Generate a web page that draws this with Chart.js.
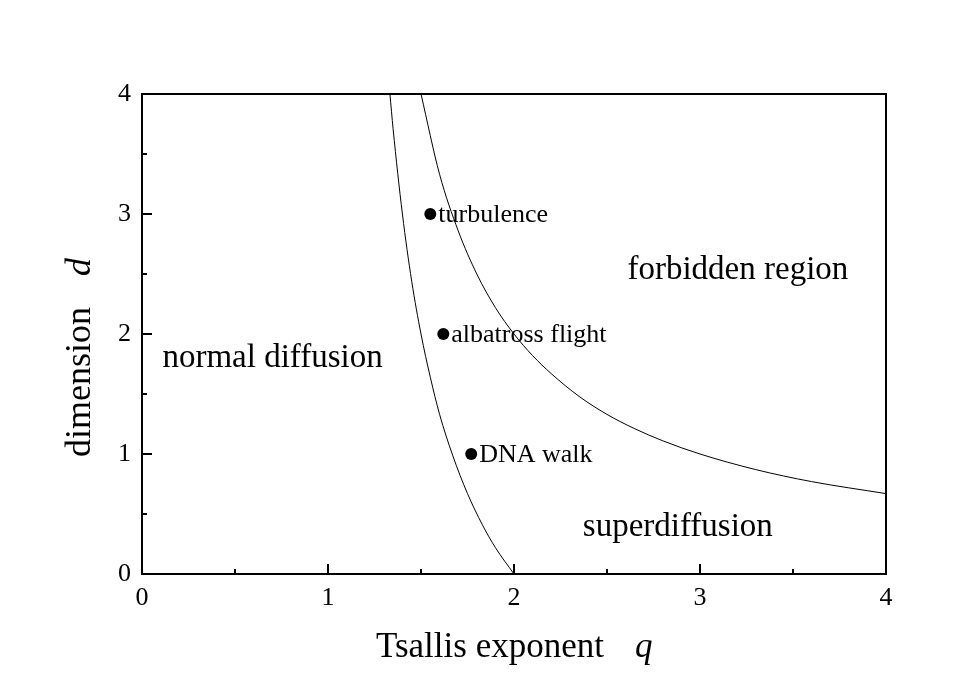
<!DOCTYPE html>
<html>
<head>
<meta charset="utf-8">
<script src="https://cdn.jsdelivr.net/npm/chart.js@4"></script>
<style>
  body { margin: 0; background: #fff; }
</style>
</head>
<body>
<canvas id="grafico" width="977" height="678"></canvas>
<script>
// curva izquierda (normal / superdifusion)
let qNormal = [1.333, 1.35, 1.4, 1.45, 1.5, 1.55, 1.6, 1.67, 1.75, 1.83, 1.9, 2.0];
let dNormal = [4.0, 3.71, 3.0, 2.44, 2.0, 1.64, 1.33, 0.99, 0.67, 0.41, 0.22, 0];

// curva derecha (region prohibida)
let qProhibida = [1.5, 1.6, 1.7, 1.8, 1.9, 2.0, 2.1, 2.2, 2.35, 2.5, 2.65, 2.8, 3.0, 3.3, 3.6, 4.0];
let dProhibida = [4.0, 3.33, 2.86, 2.5, 2.22, 2.0, 1.82, 1.67, 1.48, 1.33, 1.21, 1.11, 1.0, 0.87, 0.77, 0.67];

// sistemas medidos
let puntosNombres = ["turbulence", "albatross flight", "DNA walk"];
let puntosQ = [1.55, 1.62, 1.77];
let puntosD = [3, 2, 1];

// textos de las regiones
let regionesNombres = ["normal diffusion", "forbidden region", "superdiffusion"];
let regionesQ = [0.11, 2.61, 2.37];
let regionesD = [1.8, 2.53, 0.39];

// ticks
let ticksMayores = [0, 1, 2, 3, 4];
let ticksMenores = [0.5, 1.5, 2.5, 3.5];

let fuente = "Liberation Serif";

function toXY(xs, ys) {
  return xs.map((x, i) => ({ x: x, y: ys[i] }));
}

// marco, ticks hacia adentro, textos y titulos
const marco = {
  id: "marco",
  afterDraw(chart) {
    const ctx = chart.ctx;
    const area = chart.chartArea;
    const sx = chart.scales.x;
    const sy = chart.scales.y;
    ctx.save();
    ctx.strokeStyle = "#000";
    ctx.lineWidth = 2;
    ctx.strokeRect(area.left, area.top, area.right - area.left, area.bottom - area.top);

    ctx.beginPath();
    for (const v of ticksMayores) {
      let px = sx.getPixelForValue(v);
      ctx.moveTo(px, area.bottom);
      ctx.lineTo(px, area.bottom - 10);
      let py = sy.getPixelForValue(v);
      ctx.moveTo(area.left, py);
      ctx.lineTo(area.left + 10, py);
    }
    for (const v of ticksMenores) {
      let px = sx.getPixelForValue(v);
      ctx.moveTo(px, area.bottom);
      ctx.lineTo(px, area.bottom - 5);
      let py = sy.getPixelForValue(v);
      ctx.moveTo(area.left, py);
      ctx.lineTo(area.left + 5, py);
    }
    ctx.stroke();

    ctx.fillStyle = "#000";

    // etiquetas de los puntos
    ctx.font = "26px " + fuente;
    ctx.textAlign = "left";
    ctx.textBaseline = "alphabetic";
    const meta = chart.getDatasetMeta(2);
    meta.data.forEach((p, i) => {
      ctx.fillText(puntosNombres[i], p.x + 8, p.y + 8);
    });

    // regiones
    ctx.font = "33px " + fuente;
    ctx.textBaseline = "middle";
    regionesNombres.forEach((t, i) => {
      ctx.fillText(t, sx.getPixelForValue(regionesQ[i]), sy.getPixelForValue(regionesD[i]));
    });

    // titulo eje x
    ctx.textBaseline = "alphabetic";
    ctx.font = "35px " + fuente;
    ctx.fillText("Tsallis exponent", 376, 657);
    ctx.font = "italic 35px " + fuente;
    ctx.fillText("q", 635, 657);

    // titulo eje y
    ctx.translate(90, 457);
    ctx.rotate(-Math.PI / 2);
    ctx.font = "36px " + fuente;
    ctx.fillText("dimension", 0, 0);
    ctx.font = "italic 36px " + fuente;
    ctx.fillText("d", 181, 0);
    ctx.restore();
  }
};

let grafico = new Chart(document.querySelector("#grafico"), {
  type: "scatter",
  data: {
    datasets: [
      {
        data: toXY(qNormal, dNormal),
        showLine: true,
        borderColor: "#000",
        borderWidth: 1,
        pointRadius: 0,
        cubicInterpolationMode: "monotone"
      },
      {
        data: toXY(qProhibida, dProhibida),
        showLine: true,
        borderColor: "#000",
        borderWidth: 1,
        pointRadius: 0,
        cubicInterpolationMode: "monotone"
      },
      {
        data: toXY(puntosQ, puntosD),
        showLine: false,
        pointRadius: 6,
        backgroundColor: "#000",
        borderWidth: 0
      }
    ]
  },
  options: {
    responsive: false,
    animation: false,
    layout: { padding: { left: 0, top: 94, right: 91, bottom: 0 } },
    plugins: {
      legend: { display: false },
      tooltip: { enabled: false }
    },
    scales: {
      x: {
        type: "linear",
        min: 0,
        max: 4,
        afterFit(s) { s.height = 104; },
        grid: { display: false, drawTicks: false },
        border: { display: false },
        ticks: {
          stepSize: 1,
          padding: 9,
          color: "#000",
          font: { family: fuente, size: 26 }
        }
      },
      y: {
        type: "linear",
        min: 0,
        max: 4,
        afterFit(s) { s.width = 142; },
        grid: { display: false, drawTicks: false },
        border: { display: false },
        ticks: {
          stepSize: 1,
          padding: 11,
          color: "#000",
          font: { family: fuente, size: 26 }
        }
      }
    }
  },
  plugins: [marco]
});
</script>
</body>
</html>
